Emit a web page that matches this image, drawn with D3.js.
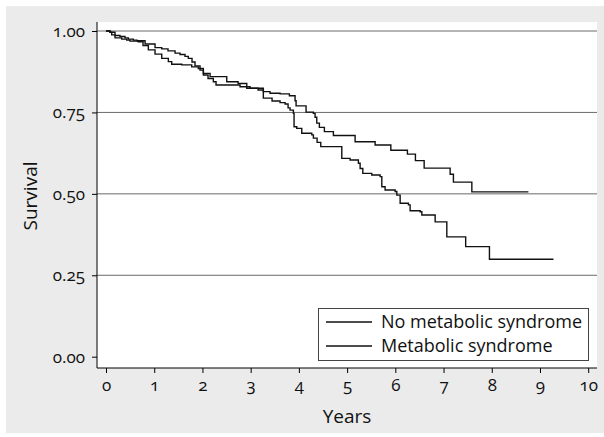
<!DOCTYPE html>
<html>
<head>
<meta charset="utf-8">
<script src="https://cdn.jsdelivr.net/npm/d3@7"></script>
<style>
  body { margin: 0; background: #fff; }
  text { font-family: "Open Sans", "Noto Sans", sans-serif; font-variant-numeric: oldstyle-nums; fill: #111; }
</style>
</head>
<body>
<svg width="604" height="437"></svg>
<script>
// Kaplan-Meier step data (time in years, survival after the drop)
var noMetTimes = [0.083,0.187,0.29,0.394,0.463,0.566,0.643,0.81,1.017,1.156,1.286,1.432,1.535,1.639,1.707,1.784,1.846,
                  1.95,2.019,2.158,2.504,2.739,2.919,3.263,3.402,3.61,3.803,3.921,3.942,4.149,4.3,4.336,4.371,4.425,
                  4.529,4.716,5.166,5.581,5.907,6.251,6.417,6.598,7.137,7.205,7.587]
var noMetSurv  = [0.996,0.986,0.983,0.979,0.975,0.972,0.970,0.960,0.949,0.945,0.939,0.932,0.928,0.922,0.916,0.905,0.893,
                  0.880,0.870,0.860,0.844,0.839,0.824,0.814,0.809,0.807,0.801,0.786,0.770,0.751,0.747,0.735,0.717,0.704,
                  0.691,0.679,0.660,0.650,0.634,0.622,0.602,0.579,0.560,0.536,0.506]
var noMetEnd = 8.76

var metTimes = [0.083,0.118,0.187,0.326,0.429,0.498,0.67,0.768,0.878,1.017,1.156,1.293,1.363,1.571,1.778,1.915,
                2.019,2.116,2.226,2.282,2.78,2.988,3.154,3.263,3.444,3.61,3.714,3.776,3.817,3.886,3.900,3.956,4.06,
                4.268,4.301,4.378,4.454,4.89,5.062,5.234,5.27,5.326,5.512,5.685,5.72,5.788,5.996,6.031,6.1,6.272,
                6.307,6.515,6.55,6.826,7.068,7.459,7.952]
var metSurv  = [0.996,0.988,0.979,0.975,0.972,0.969,0.967,0.955,0.942,0.929,0.916,0.906,0.898,0.896,0.890,0.885,
                0.865,0.854,0.844,0.834,0.829,0.824,0.819,0.794,0.785,0.780,0.776,0.764,0.757,0.747,0.706,0.701,0.686,
                0.681,0.671,0.658,0.645,0.609,0.604,0.594,0.578,0.563,0.558,0.553,0.522,0.512,0.507,0.496,0.471,0.466,
                0.448,0.445,0.435,0.414,0.368,0.338,0.299]
var metEnd = 9.28

var seriesNames = ["No metabolic syndrome","Metabolic syndrome"]
var xTicks = [0,1,2,3,4,5,6,7,8,9,10]
var yTicks = [0,0.25,0.5,0.75,1]

var svg = d3.select("svg")

// panel background
svg.append("rect")
    .attr("x",6).attr("y",6)
    .attr("width",598).attr("height",427)
    .attr("fill","#ebebeb")

var plot = {left:97,right:597,top:22,bottom:368}

svg.append("rect")
    .attr("x",plot.left).attr("y",plot.top)
    .attr("width",plot.right-plot.left).attr("height",plot.bottom-plot.top)
    .attr("fill","#fff")

var xScale = d3.scaleLinear().domain([0,10]).range([106,588.2])
var yScale = d3.scaleLinear().domain([0,1]).range([356.7,31])

// gridlines
svg.append("g")
    .selectAll("line")
    .data(yTicks.filter(function(d){ return d>0 }))
    .enter()
    .append("line")
    .attr("x1",plot.left).attr("x2",plot.right)
    .attr("y1",function(d){ return yScale(d) })
    .attr("y2",function(d){ return yScale(d) })
    .attr("stroke","#6a6a6a")
    .attr("stroke-width",1)

// axes
var yAxis = d3.axisLeft(yScale)
    .tickValues(yTicks)
    .tickSize(5)
    .tickPadding(7)
    .tickFormat(d3.format(".2f"))
var xAxis = d3.axisBottom(xScale)
    .tickValues(xTicks)
    .tickSize(5)
    .tickPadding(6)
    .tickFormat(d3.format("d"))

var ya = svg.append("g")
    .attr("transform","translate("+plot.left+",0)")
    .call(yAxis)
ya.select(".domain").remove()
ya.append("line")
    .attr("x1",0).attr("x2",0)
    .attr("y1",plot.top).attr("y2",plot.bottom)
    .attr("stroke","#000")

var xa = svg.append("g")
    .attr("transform","translate(0,"+plot.bottom+")")
    .call(xAxis)
xa.select(".domain").remove()
xa.append("line")
    .attr("x1",plot.left).attr("x2",plot.right)
    .attr("y1",0).attr("y2",0)
    .attr("stroke","#000")

svg.selectAll(".tick text")
    .attr("font-size",17)
    .attr("font-family",null)
    .attr("fill","#111")
svg.selectAll(".tick line").attr("stroke","#000")

// curves
var makePoints = function(times,surv,end)
{
    var pts = [[0,1]]
    times.forEach(function(t,i){ pts.push([t,surv[i]]) })
    pts.push([end,surv[surv.length-1]])
    return pts
}

var lineGenerator = d3.line()
    .x(function(d){ return xScale(d[0]) })
    .y(function(d){ return yScale(d[1]) })
    .curve(d3.curveStepAfter)

var curves = [makePoints(noMetTimes,noMetSurv,noMetEnd), makePoints(metTimes,metSurv,metEnd)]

svg.append("g")
    .selectAll("path")
    .data(curves)
    .enter()
    .append("path")
    .attr("d",lineGenerator)
    .attr("fill","none")
    .attr("stroke","#111")
    .attr("stroke-width",1.4)

// legend
var legend = svg.append("g")
legend.append("rect")
    .attr("x",318.5).attr("y",308.5)
    .attr("width",270).attr("height",52)
    .attr("fill","#fff")
    .attr("stroke","#444")

var items = legend.selectAll("g.item")
    .data(seriesNames)
    .enter()
    .append("g")
    .attr("transform",function(d,i){ return "translate(0,"+(322+i*24)+")" })
items.append("line")
    .attr("x1",326).attr("x2",372)
    .attr("stroke","#111").attr("stroke-width",1.4)
items.append("text")
    .attr("x",381).attr("y",6)
    .attr("font-size",18)
    .text(function(d){ return d })

// labels
svg.append("text")
    .attr("x",(plot.left+plot.right)/2)
    .attr("y",423)
    .attr("text-anchor","middle")
    .attr("font-size",19)
    .text("Years")

svg.append("text")
    .attr("transform","translate(37,196) rotate(-90)")
    .attr("text-anchor","middle")
    .attr("font-size",19)
    .text("Survival")
</script>
</body>
</html>
